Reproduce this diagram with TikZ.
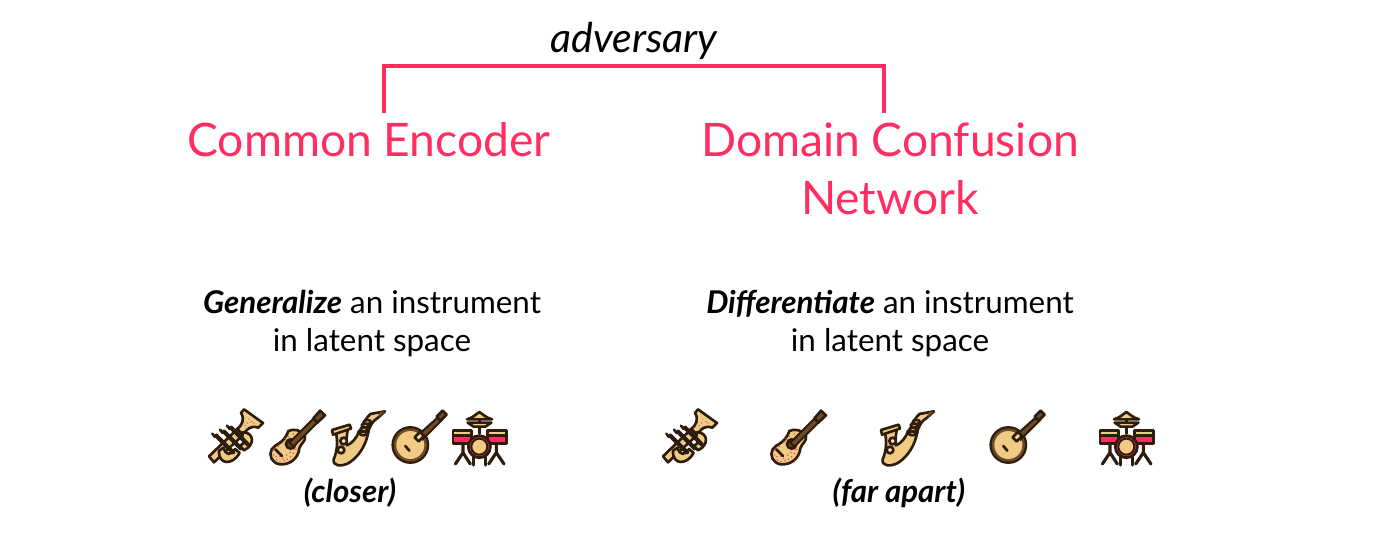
\documentclass[tikz,border=0pt]{standalone}
\usepackage{fontspec}
\setmainfont{Lato}
\usetikzlibrary{calc}

\definecolor{redpink}{HTML}{FF2D60}
\definecolor{tan}{HTML}{EFCB84}
\definecolor{dark}{HTML}{2E1C0C}
\definecolor{brownish}{HTML}{6E4A28}

\tikzset{
    title/.style={text=redpink, font=\fontsize{26.3}{33}\selectfont, align=center},
    caption/.style={font=\fontsize{17.85}{21.6}\selectfont, align=center},
    note/.style={font=\fontsize{17.8}{20}\selectfont\bfseries\itshape},
    bracket/.style={draw=redpink, line width=2.8pt},
    part/.style={draw=dark, fill=tan, line width=1.5pt, line join=round},
    stroke/.style={draw=dark, line width=1.5pt, line cap=round},
    trumpet/.pic={
        \begin{scope}[scale=1/3]
            \draw[part] (105,1) -- (162,42) -- (148,56) .. controls (125,48) and (112,60) .. (102,80) -- (82,62) .. controls (100,50) and (108,30) .. (96,12) -- cycle;
            \foreach \dx/\dy in {120/30, 128/38, 115/42, 108/50, 135/42}
                \fill[redpink] (\dx,\dy) circle (2.2);
            \draw[part] (100,70) .. controls (135,68) and (140,108) .. (105,124) -- (93,110) .. controls (112,100) and (110,85) .. (90,84) -- cycle;
            \draw[part] (0,142) -- (85,60) -- (102,78) -- (15,160) -- cycle;
            \draw[part] (30,125) .. controls (28,170) and (72,168) .. (92,132) -- (78,120) .. controls (65,140) and (50,140) .. (44,116) -- cycle;
            \foreach \vx/\vy in {22/80, 45/68, 66/56} {
                \draw[stroke, line width=2.4pt] (\vx,\vy) -- ++(50,50);
                \draw[stroke] (\vx-4,\vy+4) -- ++(-8,-10);
            }
        \end{scope}
    },
    guitar/.pic={
        \begin{scope}[scale=1/3]
            \draw[part, fill=brownish] (130,25) -- (150,2) -- (165,16) -- (142,38) -- cycle;
            \draw[part] (55,63) .. controls (70,55) and (95,60) .. (105,78) .. controls (108,95) and (92,100) .. (88,115) .. controls (85,145) and (60,165) .. (30,163) .. controls (5,160) and (-5,135) .. (5,118) .. controls (15,100) and (40,105) .. (55,63) -- cycle;
            \foreach \dx/\dy in {20/150, 30/155, 42/152, 52/148, 62/140, 70/130, 78/118, 10/135, 12/120, 25/110, 40/95, 55/80, 70/72, 85/75, 92/90, 30/140, 50/135, 18/140, 38/145, 60/128, 72/118, 45/85, 80/85}
                \fill[redpink] (\dx,\dy) circle (2.4);
            \draw[stroke, fill=brownish] (62,102) circle (14);
            \draw[stroke, fill=brownish, line width=1.2pt] (58,98) -- (130,26) -- (142,38) -- (70,110) -- cycle;
            \draw[stroke] (16,118) -- (36,138);
        \end{scope}
    },
    sax/.pic={
        \begin{scope}[scale=1/3]
            \draw[part] (14,66) .. controls (22,95) and (18,125) .. (8,148) .. controls (4,168) and (30,172) .. (55,158) .. controls (85,138) and (105,105) .. (112,66) -- (84,62) .. controls (78,85) and (62,100) .. (48,106) .. controls (44,95) and (48,75) .. (50,60) -- cycle;
            \draw[part] (3,60) -- (56,44) -- (60,56) -- (6,74) -- cycle;
            \draw[part, fill=white!50!tan] (38,93) circle (10);
            \draw[part, fill=white!50!tan] (30,120) circle (10);
            \draw[part] (88,70) .. controls (92,50) and (100,30) .. (118,12) -- (162,4) -- (140,24) .. controls (125,32) and (115,50) .. (110,72) -- cycle;
            \foreach \kx/\ky in {97/70, 99/58, 103/46, 109/36}
                \draw[part] (\kx,\ky) ellipse (11 and 6);
            \fill[brownish] (146,7) -- (162,4) -- (143,22) -- cycle;
        \end{scope}
    },
    banjo/.pic={
        \begin{scope}[scale=1/3]
            \draw[stroke, fill=tan, line width=1.8pt] (55,105) circle (52);
            \draw[draw=brownish, line width=1.4pt] (55,105) circle (46);
            \draw[stroke] (40,108) -- (52,122);
            \draw[stroke, fill=brownish, line width=1.2pt] (82,72) -- (140,20) -- (150,30) -- (92,88) -- cycle;
            \draw[part, fill=tan!60!white] (68,82) -- (84,66) -- (96,78) -- (80,94) -- cycle;
            \draw[part, fill=brownish] (134,20) -- (152,2) -- (164,14) -- (146,32) -- cycle;
        \end{scope}
    },
    drums/.pic={
        \begin{scope}[scale=1/3]
            \draw[stroke] (82,28) -- (82,70);
            \draw[part] (47,38) -- (118,38) -- (100,50) -- (65,50) -- cycle;
            \draw[part] (45,28) .. controls (65,22) and (72,12) .. (82,6) .. controls (92,12) and (100,22) .. (120,28) -- cycle;
            \draw[stroke, line width=1.8pt] (33,100) -- (33,128) (10,162) -- (33,128) -- (55,162);
            \draw[stroke, line width=1.8pt] (133,100) -- (133,128) (110,162) -- (133,128) -- (156,162);
            \draw[stroke, line width=1.8pt] (65,140) -- (65,165) (100,140) -- (100,165);
            \draw[part, fill=redpink] (3,65) rectangle (58,100);
            \draw[part] (3,62) rectangle (58,76);
            \draw[part, fill=redpink] (107,65) rectangle (163,100);
            \draw[part] (107,62) rectangle (163,76);
            \draw[stroke, fill=redpink, line width=1.6pt] (82,110) circle (33);
            \draw[stroke, fill=tan, line width=1.1pt] (82,110) circle (24);
        \end{scope}
    },
}

\begin{document}
\begin{tikzpicture}[x=0.02cm, y=-0.02cm]
            \useasboundingbox (0,0) rectangle (1400,540);
            % headings
            \node[title] (Encoder) at (369,140) {Common Encoder};
            \node[title] (Confusion) at (890,169) {Domain Confusion\\Network};
            \node[font=\fontsize{23.4}{28}\selectfont\itshape] (Adversary) at (634,41) {adversary};
            % bracket between the two
            \coordinate (BracketL) at (384,113);
            \coordinate (BracketR) at (884,113);
            \coordinate (BracketT) at (634,66);
            \draw[bracket] (BracketL) |- (BracketT) -| (BracketR);
            % captions
            \node[caption] (Generalize) at (372,323.5) {\textbf{\textit{Generalize}} an instrument\\in latent space};
            \node[caption] (Differentiate) at (890,323.5) {\textbf{\textit{Differentiate}} an instrument\\in latent space};
            % instruments, close together
            \pic at (209,409) {trumpet};
            \pic at (270,410) {guitar};
            \pic at (331,410) {sax};
            \pic at (392,410) {banjo};
            \pic at (452,410) {drums};
            \node[note] (Closer) at (350,493) {(closer)};
            % instruments, spread out
            \pic at (663,409) {trumpet};
            \pic at (771,410) {guitar};
            \pic at (880,410) {sax};
            \pic at (990,410) {banjo};
            \pic at (1099,410) {drums};
            \node[note] (FarApart) at (899,493) {(far apart)};
        \end{tikzpicture}
\end{document}
